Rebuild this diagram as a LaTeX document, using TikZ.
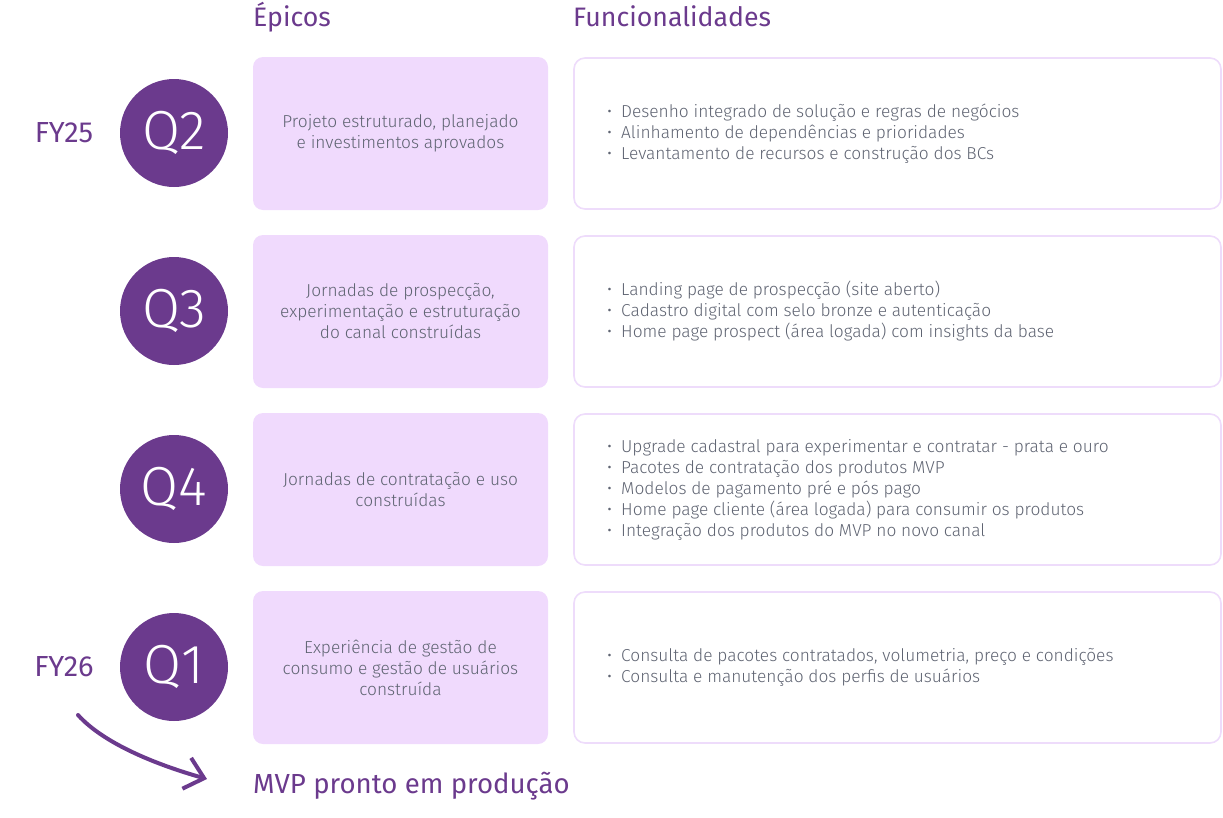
\documentclass[tikz,border=0pt]{standalone}
\usepackage{fontspec}
\setmainfont{Fira Sans}[UprightFont=* Light]
\newfontfamily\regfont{Fira Sans}
\usetikzlibrary{arrows.meta}
\definecolor{mvpurple}{RGB}{107,58,141}
\definecolor{epicfill}{RGB}{240,218,253}
\definecolor{featborder}{RGB}{238,220,251}
\definecolor{bodygray}{RGB}{95,100,114}
\tikzset{
  quarter/.style={circle, fill=mvpurple, minimum size=108pt, inner sep=0pt, text=white, font=\fontsize{55}{55}\selectfont},
  epicbox/.style={fill=epicfill, draw=none, rounded corners=10pt},
  featbox/.style={draw=featborder, line width=1.6pt, fill=white, rounded corners=11pt},
  epictext/.style={align=center, text=bodygray, font=\fontsize{17.3}{21}\selectfont, inner sep=0pt},
  feattext/.style={align=left, text=bodygray, font=\fontsize{17.3}{21}\selectfont, inner sep=0pt, anchor=west},
  fylabel/.style={text=mvpurple, font=\regfont\fontsize{29}{29}\selectfont, inner sep=0pt},
  header/.style={text=mvpurple, font=\regfont\fontsize{26.7}{27}\selectfont, inner sep=0pt, anchor=base west},
}
\newcommand{\bul}{\makebox[14pt][l]{\textbullet}}
\begin{document}
\begin{tikzpicture}[x=1pt,y=-1pt]
\useasboundingbox (0,0) rectangle (1223,817);
\node[header] (hep) at (253,26) {Épicos};
\node[header] (hfu) at (573,26) {Funcionalidades};

% rows
\foreach \r/\top in {1/57,2/235,3/413,4/591}{
  \path[epicbox] (253,\top) rectangle (548,\top+153);
  \draw[featbox] (574,\top+1) rectangle (1221,\top+152);
}
\coordinate (e1) at (400.5,133.5);
\coordinate (e2) at (400.5,311.5);
\coordinate (e3) at (400.5,489.5);
\coordinate (e4) at (400.5,667.5);

\node[quarter] (q2) at (174,133) {Q2};
\node[quarter] (q3) at (174,311) {Q3};
\node[quarter] (q4) at (174,489) {Q4};
\node[quarter] (q1) at (174,667) {Q1};

\node[fylabel] (fy25) at (64,133) {FY25};
\node[fylabel] (fy26) at (64,667) {FY26};

\node[epictext] (t1) at (e1) {Projeto estruturado, planejado\\e investimentos aprovados};
\node[epictext] (t2) at (e2) {Jornadas de prospecção,\\experimentação e estruturação\\do canal construídas};
\node[epictext] (t3) at (e3) {Jornadas de contratação e uso\\construídas};
\node[epictext] (t4) at (e4) {Experiência de gestão de\\consumo e gestão de usuários\\construída};

\node[feattext] (f1) at (607,133.5) {\bul Desenho integrado de solução e regras de negócios\\\bul Alinhamento de dependências e prioridades\\\bul Levantamento de recursos e construção dos BCs};
\node[feattext] (f2) at (607,311.5) {\bul Landing page de prospecção (site aberto)\\\bul Cadastro digital com selo bronze e autenticação\\\bul Home page prospect (área logada) com insights da base};
\node[feattext] (f3) at (607,489.5) {\bul Upgrade cadastral para experimentar e contratar - prata e ouro\\\bul Pacotes de contratação dos produtos MVP\\\bul Modelos de pagamento pré e pós pago\\\bul Home page cliente (área logada) para consumir os produtos\\\bul Integração dos produtos do MVP no novo canal};
\node[feattext] (f4) at (607,667.5) {\bul Consulta de pacotes contratados, volumetria, preço e condições\\\bul Consulta e manutenção dos perfis de usuários};

\node[header, font=\regfont\fontsize{27.6}{28}\selectfont] (mvp) at (253,793) {MVP pronto em produção};
\coordinate (astart) at (78,715);
\coordinate (aend) at (207,779);
\draw[mvpurple, line width=4pt, line cap=round, -{Straight Barb[length=18pt,width=32pt,line width=4pt]}] (astart) .. controls (105,745) and (161,766) .. (aend);
\end{tikzpicture}
\end{document}
